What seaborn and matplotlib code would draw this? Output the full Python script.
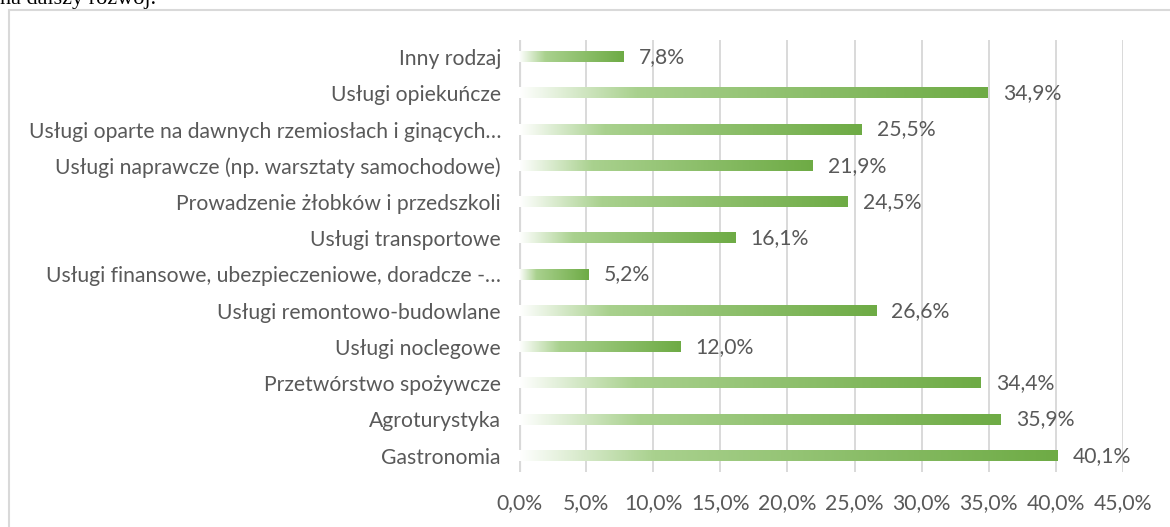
import matplotlib
matplotlib.use('Agg')
import matplotlib.pyplot as plt
import pandas as pd
import numpy as np
import seaborn as sns
from matplotlib.colors import LinearSegmentedColormap
from matplotlib.patches import Rectangle

# data
categories = [
    'Inny rodzaj',
    'Usługi opiekuńcze',
    'Usługi oparte na dawnych rzemiosłach i ginących…',
    'Usługi naprawcze (np. warsztaty samochodowe)',
    'Prowadzenie żłobków i przedszkoli',
    'Usługi transportowe',
    'Usługi finansowe, ubezpieczeniowe, doradcze -…',
    'Usługi remontowo-budowlane',
    'Usługi noclegowe',
    'Przetwórstwo spożywcze',
    'Agroturystyka',
    'Gastronomia',
]
values = [7.8, 34.9, 25.5, 21.9, 24.5, 16.1, 5.2, 26.6, 12.0, 34.4, 35.9, 40.1]
xticks = [0, 5, 10, 15, 20, 25, 30, 35, 40, 45]

df = pd.DataFrame({'kategoria': categories, 'procent': values})

sns.set_style('white')
plt.rcParams['font.family'] = ['Lato', 'DejaVu Sans']
text_col = '#595959'
grid_col = '#d9d9d9'
fs = 15.2

fig = plt.figure(figsize=(11.7, 5.27), dpi=100)
ax = fig.add_axes([519 / 1170, 1 - 472 / 527, (1123 - 519) / 1170, (472 - 40) / 527])

sns.barplot(data=df, x='procent', y='kategoria', orient='h', ax=ax,
            color='#70ad47', width=0.28, saturation=1)

# gradient fill over each bar (white -> light green -> green)
cmap = LinearSegmentedColormap.from_list(
    'grad', [(0, '#ffffff'), (0.25, '#a9d18e'), (1, '#6eab45')])
grad = np.linspace(0, 1, 256).reshape(1, -1)
for p in ax.patches:
    x0, y0 = p.get_x(), p.get_y()
    w, h = p.get_width(), p.get_height()
    p.set_alpha(0)
    ax.imshow(grad, cmap=cmap, aspect='auto', extent=(x0, x0 + w, y0 + h, y0),
              zorder=3, interpolation='bilinear')

ax.set_xlim(0, 45)
ax.set_ylim(len(categories) - 1 + 0.45, -0.47)

for t in xticks:
    lw = 3 if t == 0 else 1.4
    ax.axvline(t, color=grid_col, lw=lw, zorder=1)

ax.set_xticks(xticks)
ax.set_xticklabels([f'{t:.1f}%'.replace('.', ',') for t in xticks])
ax.tick_params(axis='x', length=0, pad=15, labelsize=fs, labelcolor=text_col)
ax.tick_params(axis='y', length=0, pad=13, labelsize=fs, labelcolor=text_col)
ax.set_xlabel('')
ax.set_ylabel('')
for s in ax.spines.values():
    s.set_visible(False)

for i, v in enumerate(values):
    ax.annotate(f'{v:.1f}%'.replace('.', ','), xy=(v, i), xytext=(11, 0),
                textcoords='offset points', va='center', ha='left',
                fontsize=fs, color=text_col)

# chart frame and cut-off text above it
fig.patches.append(Rectangle((9 / 1170, -0.01), 1.1, 1 - 10 / 527 + 0.01,
                             transform=fig.transFigure, fill=False,
                             edgecolor=grid_col, lw=1.5))
fig.text(0.0, 1 - 4 / 527, 'na dalszy rozwój.', family='Liberation Serif',
         fontsize=16, color='black', va='baseline', ha='left')

fig.savefig('out.png', dpi=100)
